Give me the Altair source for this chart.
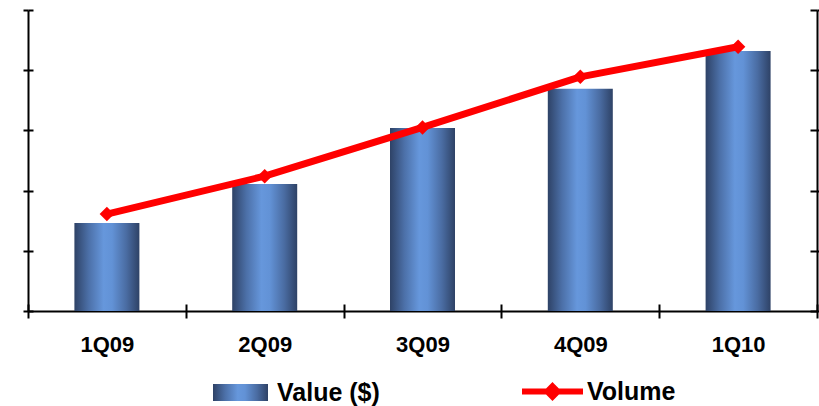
import altair as alt
import pandas as pd

# Quarterly value (bars, left axis) and volume (line, right axis)
quarters = ["1Q09", "2Q09", "3Q09", "4Q09", "1Q10"]
value_usd = [14.6, 21.1, 30.4, 36.9, 43.2]
volume = [16.1, 22.4, 30.5, 38.9, 43.9]

y_ticks = [0, 10, 20, 30, 40, 50]
y_domain = [0, 50]

df = pd.DataFrame({"quarter": quarters, "value": value_usd, "volume": volume})

FONT = "Liberation Sans"
BLACK = "#000000"
RED = "#ff0000"

bar_gradient = alt.LinearGradient(
    gradient="linear",
    x1=0, x2=1, y1=0, y2=0,
    stops=[
        alt.GradientStop(offset=0.0, color="#2e4266"),
        alt.GradientStop(offset=0.22, color="#4c70a8"),
        alt.GradientStop(offset=0.45, color="#6697dc"),
        alt.GradientStop(offset=0.58, color="#6292d6"),
        alt.GradientStop(offset=0.8, color="#4a6ca2"),
        alt.GradientStop(offset=1.0, color="#2e4266"),
    ],
)

x_scale = alt.Scale(type="band", domain=quarters, paddingInner=0, paddingOuter=0)


def y_scale():
    return alt.Scale(domain=y_domain, nice=False, zero=True)


def tick_axis(orient, offset, tick_size, show_domain):
    return alt.Axis(
        orient=orient,
        values=y_ticks,
        labels=False,
        title=None,
        grid=False,
        offset=offset,
        domain=show_domain,
        domainColor=BLACK,
        domainWidth=2,
        ticks=True,
        tickColor=BLACK,
        tickWidth=2,
        tickSize=tick_size,
    )


base = alt.Chart(df)

# Bars with the main category axis and left value axis
bars = base.mark_bar(size=65, fill=bar_gradient).encode(
    x=alt.X(
        "quarter:N",
        sort=quarters,
        scale=x_scale,
        axis=alt.Axis(
            orient="bottom",
            title=None,
            tickBand="extent",
            domainColor=BLACK,
            domainWidth=2,
            tickColor=BLACK,
            tickWidth=2,
            tickSize=7,
            labelAngle=0,
            labelFont=FONT,
            labelFontSize=22,
            labelFontWeight="bold",
            labelColor=BLACK,
            labelPadding=16,
        ),
    ),
    y=alt.Y("value:Q", scale=y_scale(), axis=tick_axis("left", 0, 5, True)),
    opacity=alt.Opacity(
        "series:N",
        scale=alt.Scale(domain=["Value ($)"], range=[1]),
        legend=alt.Legend(
            title=None,
            orient="none",
            legendX=185,
            legendY=355,
            padding=0,
            symbolType="M-1,-0.31H1V0.31H-1Z",
            symbolSize=3025,
            symbolStrokeWidth=0,
            labelFont=FONT,
            labelFontSize=25,
            labelFontWeight="bold",
            labelColor=BLACK,
            labelOffset=9,
        ),
    ),
).transform_calculate(series="'Value ($)'")

# Invisible copy: inner half of the crossing ticks on the left and bottom
bars_inner = base.mark_bar(size=65, opacity=0).encode(
    x=alt.X(
        "quarter:N",
        sort=quarters,
        scale=x_scale,
        axis=alt.Axis(
            orient="bottom",
            offset=-7,
            title=None,
            labels=False,
            domain=False,
            tickBand="extent",
            tickColor=BLACK,
            tickWidth=2,
            tickSize=7,
        ),
    ),
    y=alt.Y("value:Q", scale=y_scale(), axis=tick_axis("left", -5, 5, False)),
)

# Volume line on the right axis
line = base.mark_line(strokeWidth=7, strokeJoin="round").encode(
    x=alt.X("quarter:N", sort=quarters, scale=x_scale, axis=None),
    y=alt.Y("volume:Q", scale=y_scale(), axis=tick_axis("right", 0, 5, True)),
    stroke=alt.Stroke(
        "series:N",
        scale=alt.Scale(domain=["Volume"], range=[RED]),
        legend=alt.Legend(
            title=None,
            orient="none",
            legendX=491,
            legendY=348,
            padding=0,
            symbolType="M-1,0H1M0,-0.17L0.17,0L0,0.17L-0.17,0Z",
            symbolSize=3721,
            symbolStrokeWidth=6,
            symbolFillColor=RED,
            labelFont=FONT,
            labelFontSize=25,
            labelFontWeight="bold",
            labelColor=BLACK,
            labelOffset=1,
        ),
    ),
).transform_calculate(series="'Volume'")

line_inner = base.mark_line(strokeOpacity=0).encode(
    x=alt.X("quarter:N", sort=quarters, scale=x_scale, axis=None),
    y=alt.Y("volume:Q", scale=y_scale(), axis=tick_axis("right", -7, 7, False)),
)

markers = base.mark_point(shape="diamond", filled=True, size=210, color=RED, opacity=1).encode(
    x=alt.X("quarter:N", sort=quarters, scale=x_scale, axis=None),
    y=alt.Y("volume:Q", scale=y_scale(), axis=None),
)

chart = (
    alt.layer(bars, bars_inner, line, line_inner, markers)
    .resolve_scale(y="independent")
    .resolve_axis(x="independent", y="independent")
    .properties(
        width=789,
        height=301,
        autosize=alt.AutoSizeParams(type="none"),
        padding={"left": 28, "top": 10, "right": 2, "bottom": 95},
        background="#ffffff",
    )
    .configure_view(stroke=None)
)

chart.save("out.html", embed_options={"renderer": "svg", "actions": False})
